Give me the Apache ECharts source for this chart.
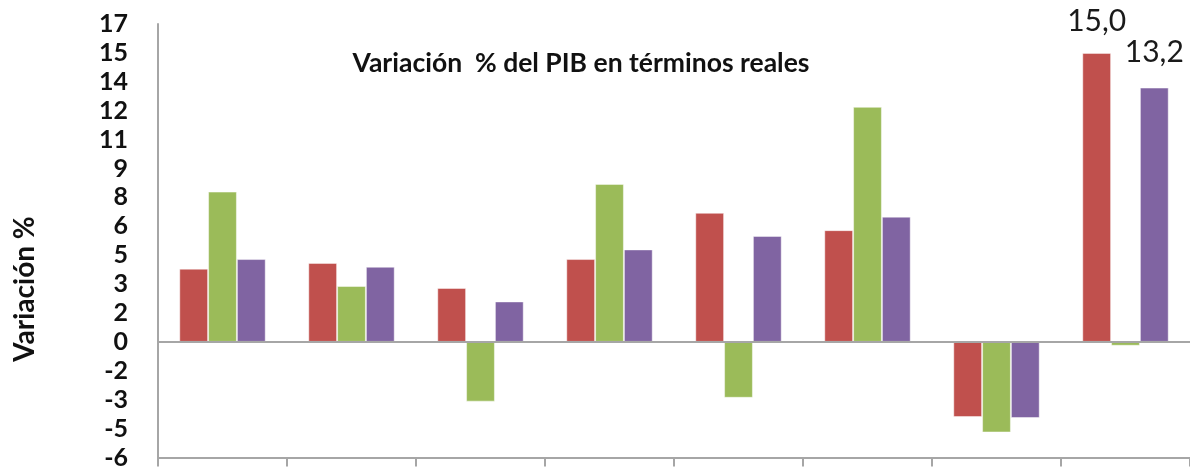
<!DOCTYPE html>
<html>
<head>
<meta charset="utf-8">
<script src="https://cdn.jsdelivr.net/npm/echarts@6/dist/echarts.min.js"></script>
<style>
  html, body { margin: 0; padding: 0; background: #fff; }
  #chart { width: 1190px; height: 470px; }
</style>
</head>
<body>
<div id="chart"></div>
<script>
const categories = ['G1', 'G2', 'G3', 'G4', 'G5', 'G6', 'G7', 'G8']
const serieRoja = [3.8, 4.1, 2.8, 4.3, 6.7, 5.8, -3.9, 15.0]
const serieVerde = [7.8, 2.9, -3.1, 8.2, -2.9, 12.2, -4.7, -0.2]
const serieMorada = [4.3, 3.9, 2.1, 4.8, 5.5, 6.5, -3.95, 13.2]
const yMin = -6
const yMax = 16.5
const yStep = 1.5

const chart = echarts.init(document.getElementById('chart'))

const fmt = v => v.toFixed(1).replace('.', ',')

// Excel rounds the 1.5 steps half away from zero
const tickLabel = v => String(Math.sign(v) * Math.round(Math.abs(v)))

const lastLabel = (distance) => ({
  show: true,
  position: 'top',
  distance: distance,
  color: '#1a1a1a',
  fontFamily: 'Lato',
  fontSize: 30,
  formatter: p => fmt(p.value)
})

const withLastLabel = (arr, distance) =>
  arr.map((v, i) => i === arr.length - 1 ? { value: v, label: lastLabel(distance) } : v)

const barSeries = (name, data, color) => ({
  name: name,
  type: 'bar',
  data: data,
  barGap: '0%',
  barCategoryGap: '33%',
  itemStyle: {
    color: color,
    borderColor: 'rgba(255,255,255,0.45)',
    borderWidth: 1
  }
})

const option = {
  backgroundColor: '#fff',
  animation: false,
  grid: {
    left: 158,
    top: 24,
    bottom: 9,
    width: 1038
  },
  title: {
    text: 'Variación  % del PIB en términos reales',
    left: 576,
    top: 45,
    textAlign: 'center',
    textStyle: {
      fontFamily: 'Lato',
      fontWeight: 'bold',
      fontSize: 26.5,
      color: '#111'
    }
  },
  graphic: [
    {
      type: 'text',
      x: 25,
      y: 289,
      rotation: Math.PI / 2,
      style: {
        text: 'Variación %',
        fontFamily: 'Lato',
        fontWeight: 'bold',
        fontSize: 28,
        fill: '#111',
        align: 'center',
        verticalAlign: 'middle'
      }
    }
  ],
  xAxis: {
    type: 'category',
    data: categories,
    axisLine: { onZero: false, lineStyle: { color: '#a6a6a6', width: 2 } },
    axisTick: { show: true, length: 9, lineStyle: { color: '#a6a6a6', width: 2 } },
    axisLabel: { show: false }
  },
  yAxis: {
    type: 'value',
    min: yMin,
    max: yMax,
    interval: yStep,
    axisLine: { show: true, lineStyle: { color: '#a6a6a6', width: 2 } },
    axisTick: { show: false },
    splitLine: { show: false },
    axisLabel: {
      margin: 30,
      color: '#111',
      fontFamily: 'Lato',
      fontWeight: 'bold',
      fontSize: 25,
      formatter: tickLabel
    }
  },
  series: [
    Object.assign(barSeries('Serie 1', withLastLabel(serieRoja, 17), '#c0504d'), {
      markLine: {
        silent: true,
        symbol: 'none',
        label: { show: false },
        lineStyle: { color: '#a6a6a6', width: 2, type: 'solid' },
        data: [{ yAxis: 0 }]
      }
    }),
    barSeries('Serie 2', serieVerde, '#9bbb59'),
    barSeries('Serie 3', withLastLabel(serieMorada, 20), '#8064a2')
  ]
}

chart.setOption(option)
</script>
</body>
</html>
